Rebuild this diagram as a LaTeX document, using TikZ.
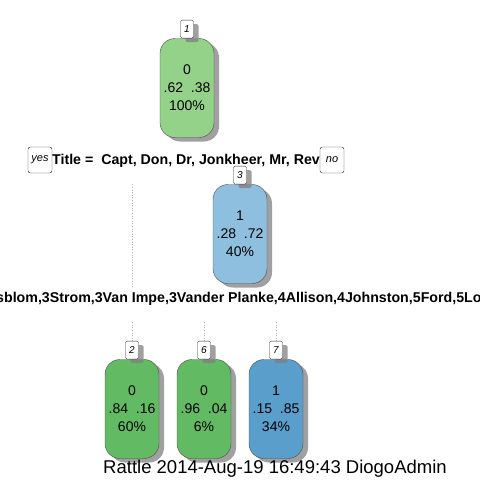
\documentclass[tikz,border=0pt]{standalone}
\usepackage{fontspec}
\setmainfont{Liberation Sans}
\usetikzlibrary{shadows,backgrounds}

\definecolor{lightgreen}{HTML}{94D28A}
\definecolor{leafgreen}{HTML}{62BA63}
\definecolor{lightblue}{HTML}{8FBFDE}
\definecolor{leafblue}{HTML}{5A9ECC}

\begin{document}
\begin{tikzpicture}[x=1pt, y=-1pt]

    \useasboundingbox (0,0) rectangle (480,480);
    \clip (0,0) rectangle (480,480);

    \tikzset{shade/.style={drop shadow={shadow xshift=5pt, shadow yshift=-4pt, fill=black!50, opacity=0.75}}}
    \tikzset{nodestyle/.style={draw=black!70, rounded corners=15pt, minimum width=54pt, minimum height=99pt, inner sep=0pt, align=center, font=\fontsize{14}{18}\selectfont, shade}}
    \tikzset{numstyle/.style={draw=black!80, fill=white, rounded corners=1.5pt, minimum width=13pt, minimum height=18pt, inner sep=0pt, font=\fontsize{10}{12}\selectfont\itshape, shade, anchor=south}}
    \tikzset{yesno/.style={draw=black!80, fill=white, rounded corners=2.5pt, minimum width=24pt, minimum height=26pt, inner sep=0pt, font=\fontsize{11}{13}\selectfont\itshape}}
    \tikzset{splitstyle/.style={fill=white, inner xsep=1pt, inner ysep=2pt, text height=12pt, text depth=18pt, font=\fontsize{14.2}{17}\selectfont\bfseries, anchor=base west}}

    % split texts
    \node[splitstyle] (s1) at (51,164) {Title =\ \ Capt, Don, Dr, Jonkheer, Mr, Rev};
    \node[splitstyle] (s2) at (-5,302) {sblom,3Strom,3Van Impe,3Vander Planke,4Allison,4Johnston,5Ford,5Lo};

    \node[yesno] (yes) at (40,160) {yes};
    \node[yesno] (no) at (332,160) {no};

    % tree nodes
    \node[nodestyle, fill=lightgreen] (n1) at (187,88) {0\\.62\ \ .38\\100\%};
    \node[nodestyle, fill=lightblue] (n3) at (240,234) {1\\.28\ \ .72\\40\%};
    \node[nodestyle, fill=leafgreen] (n2) at (132,409) {0\\.84\ \ .16\\60\%};
    \node[nodestyle, fill=leafgreen] (n6) at (204,409) {0\\.96\ \ .04\\6\%};
    \node[nodestyle, fill=leafblue] (n7) at (276,409) {1\\.15\ \ .85\\34\%};

    \node[numstyle] (b1) at (n1.north) {1};
    \node[numstyle] (b3) at (n3.north) {3};
    \node[numstyle] (b2) at (n2.north) {2};
    \node[numstyle] (b6) at (n6.north) {6};
    \node[numstyle] (b7) at (n7.north) {7};

    \begin{scope}[on background layer, every path/.style={draw=black!30, dotted, line width=0.6pt}]
        \draw (b2.north) -- (b2 |- s1.south);
        \draw (b6.north) -- (b6 |- s2.south);
        \draw (b7.north) -- (b7 |- s2.south);
    \end{scope}

    \node[font=\fontsize{18.5}{21}\selectfont] (sub) at (275,469) {Rattle 2014-Aug-19 16:49:43 DiogoAdmin};

\end{tikzpicture}
\end{document}
